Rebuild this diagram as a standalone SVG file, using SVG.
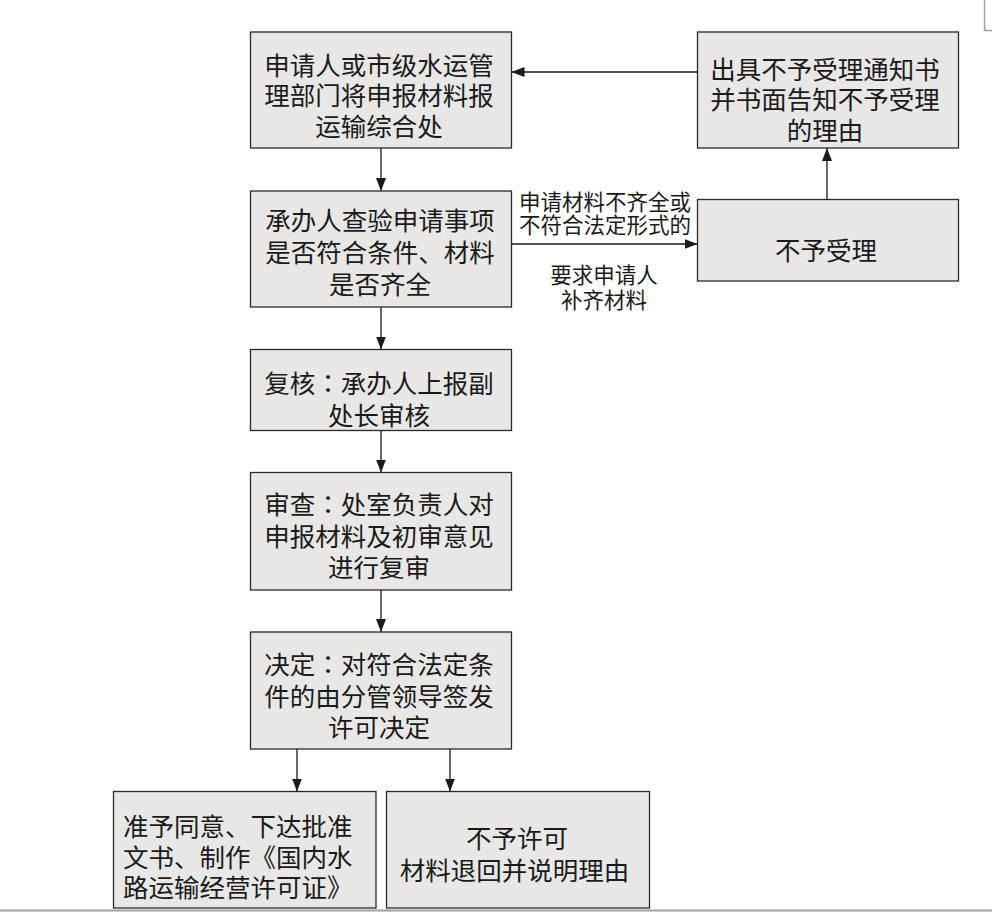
<svg xmlns="http://www.w3.org/2000/svg" width="992" height="912" viewBox="0 0 992 912">
<defs>
<marker id="ah" markerWidth="13" markerHeight="10" refX="13" refY="5" orient="auto" markerUnits="userSpaceOnUse">
<path d="M0,0 L13,5 L0,10 Z" fill="#1a1a1a"/>
</marker>
</defs>
<style>
.box{fill:#e8e7e6;stroke:#2a2a2a;stroke-width:1.3}
.t{font-family:"Noto Sans CJK SC","Microsoft YaHei",sans-serif;font-size:25.5px;fill:#1a1a1a;text-anchor:middle}
.s{text-anchor:start}
.jp{font-family:"Noto Sans CJK JP",sans-serif}
.l{font-family:"Noto Sans CJK SC","Microsoft YaHei",sans-serif;font-size:21.5px;fill:#1a1a1a;text-anchor:middle}
.c{stroke:#1a1a1a;stroke-width:1.3;fill:none;marker-end:url(#ah)}
.pg{stroke:#a0a0a4;fill:none}
</style>
<rect width="992" height="912" fill="#ffffff"/>
<path class="pg" d="M984.5,0 V30.5 H992" stroke-width="1.5"/>
<line class="pg" x1="0" y1="910.5" x2="992" y2="910.5" stroke-width="2"/>

<g id="n1">
<rect class="box" x="250.5" y="32" width="261" height="116"/>
<text class="t" x="379" y="75">申请人或市级水运管</text>
<text class="t" x="379" y="105">理部门将申报材料报</text>
<text class="t" x="379" y="136">运输综合处</text>
</g>
<g id="n2">
<rect class="box" x="250.5" y="191" width="261" height="116"/>
<text class="t" x="380" y="229.5">承办人查验申请事项</text>
<text class="t" x="380" y="262">是否符合条件、材料</text>
<text class="t" x="380" y="294">是否齐全</text>
</g>
<g id="n3">
<rect class="box" x="250.5" y="349.5" width="261" height="81"/>
<text class="t" x="379" y="393">复核<tspan class="jp">：</tspan>承办人上报副</text>
<text class="t" x="379" y="425">处长审核</text>
</g>
<g id="n4">
<rect class="box" x="250.5" y="472.5" width="261" height="117.5"/>
<text class="t" x="379" y="513.5">审查<tspan class="jp">：</tspan>处室负责人对</text>
<text class="t" x="379" y="546">申报材料及初审意见</text>
<text class="t" x="379" y="577">进行复审</text>
</g>
<g id="n5">
<rect class="box" x="250.5" y="632" width="261" height="117"/>
<text class="t" x="379" y="673.5">决定<tspan class="jp">：</tspan>对符合法定条</text>
<text class="t" x="379" y="706">件的由分管领导签发</text>
<text class="t" x="379" y="737">许可决定</text>
</g>
<g id="n6">
<rect class="box" x="113.5" y="791.5" width="262.5" height="116.5"/>
<text class="t s" x="123" y="835.5">准予同意、下达批准</text>
<text class="t s" x="123" y="866.5">文书、制作《国内水</text>
<text class="t s" x="123" y="896.5">路运输经营许可证》</text>
</g>
<g id="n7">
<rect class="box" x="386.5" y="791.5" width="263" height="116.5"/>
<text class="t" x="517" y="847.5">不予许可</text>
<text class="t" x="514.5" y="879.5">材料退回并说明理由</text>
</g>
<g id="n8">
<rect class="box" x="697.5" y="32" width="261" height="116"/>
<text class="t" x="825" y="79">出具不予受理通知书</text>
<text class="t" x="825" y="109">并书面告知不予受理</text>
<text class="t" x="825" y="140">的理由</text>
</g>
<g id="n9">
<rect class="box" x="697.5" y="199.5" width="261" height="81.5"/>
<text class="t" x="826" y="259.5">不予受理</text>
</g>

<g id="connectors">
<line class="c" x1="381" y1="148" x2="381" y2="191"/>
<line class="c" x1="381" y1="307" x2="381" y2="349.5"/>
<line class="c" x1="381" y1="430.5" x2="381" y2="472.5"/>
<line class="c" x1="381" y1="590" x2="381" y2="632"/>
<line class="c" x1="297" y1="749" x2="297" y2="791.5"/>
<line class="c" x1="450" y1="749" x2="450" y2="791.5"/>
<line class="c" x1="511.5" y1="244" x2="697.5" y2="244"/>
<line class="c" x1="827" y1="199.5" x2="827" y2="148"/>
<line class="c" x1="697.5" y1="72" x2="511.5" y2="72"/>
</g>
<g id="labels">
<text class="l" x="605" y="210">申请材料不齐全或</text>
<text class="l" x="605" y="232.5">不符合法定形式的</text>
<text class="l" x="604" y="282.5">要求申请人</text>
<text class="l" x="604" y="307.5">补齐材料</text>
</g>
</svg>
